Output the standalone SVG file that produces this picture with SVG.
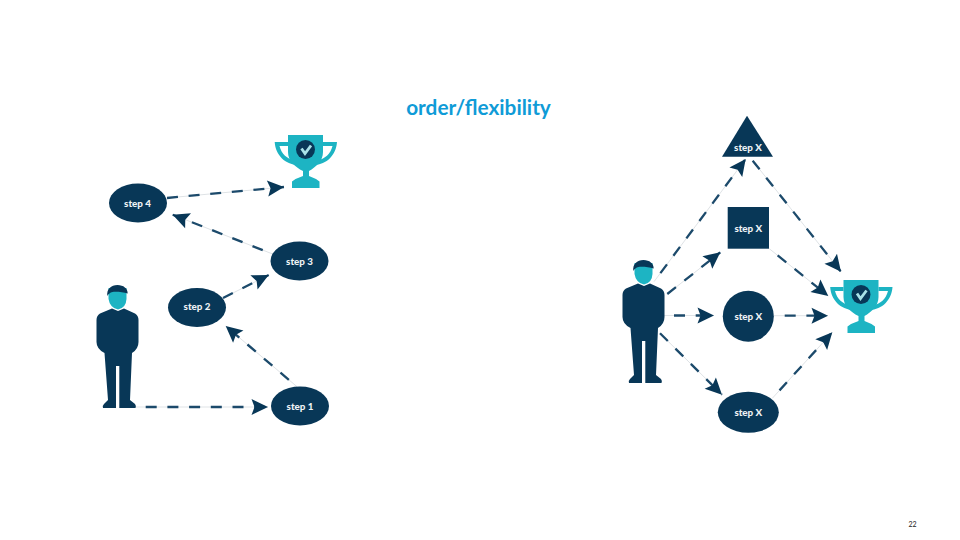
<svg xmlns="http://www.w3.org/2000/svg" width="960" height="540" viewBox="0 0 960 540">
<style>
.shape{fill:#083757}
.lbl{font-family:"Lato","Liberation Sans",sans-serif;font-weight:900;font-size:9.800px;fill:#eef2f5;text-anchor:middle}
.base{stroke:#dfe3e6;stroke-width:1;fill:none}
.dash{stroke:#1c4a6b;stroke-width:2.300;stroke-dasharray:11 10.700;fill:none;marker-end:url(#head)}
.gap{stroke-dashoffset:11}
.teal{fill:#1db4c3}
</style>
<defs>
<marker id="head" markerUnits="userSpaceOnUse" markerWidth="20" markerHeight="20" refX="17" refY="10" orient="auto" viewBox="0 0 20 20">
<path d="M17 10L0.500 2L3.500 10L0.500 18Z" fill="#083757"/>
</marker>
<g id="person">
<path class="teal" d="M108.500 288H126.500V299Q126 308 118 309.500Q110 308 108.500 299Z"/>
<path class="shape" d="M107.300 296C106.500 289 111 285 117.500 285C123.500 285 127.700 288.500 127.700 293.500C123 292 116 291.500 112.500 292C110 292.500 108.500 294 107.300 296Z"/>
<path class="shape" d="M112 308.500L118 311L124 308.500L135 313.500Q138.500 315.500 138.500 320V342Q138.500 349 132 353L130 400L135 404Q136.500 406 135.500 408H119.300V366H116V408H103Q102 406 104 404L108 400L104.500 353Q96.500 349 96.500 342V320Q96.500 315.500 100 313.500Z"/>
</g>
<g id="trophy">
<path class="teal" d="M274.700 142H288V146H279.500C281.500 154 287 159 295 160.500L298 165C285 164.500 275.500 155 274.700 142Z"/>
<path class="teal" d="M337 142H323V146H332.500C330.500 154 325 159 317 160.500L314 165C327 164.500 336 155 337 142Z"/>
<path class="teal" d="M288 135H323V152C323 161 316 167 309 171V176L316 179L319.500 181.500V188H292V181.500L295.500 179L303 176V171C295 167 288 161 288 152Z"/>
<circle class="shape" cx="305.500" cy="149.500" r="9.500"/>
<path d="M301.500 148.500L305 153.500L311 145.500" fill="none" stroke="#a9e2e8" stroke-width="2.800"/>
</g>
</defs>
<rect width="960" height="540" fill="#fff"/>
<text x="478.500" y="115" text-anchor="middle" font-family="Lato,'Liberation Sans',sans-serif" font-weight="700" font-size="20.800px" fill="#0f9bd7">order/flexibility</text>
<text x="912.500" y="527" text-anchor="middle" font-family="Lato,'Liberation Sans',sans-serif" font-size="7px" fill="#222">22</text>
<g id="connectors">
<path class="base" d="M167 198L284 187M272.700 254L172.700 214.700M223 298L268.700 275M297 386.700L225.700 326M135 407H268M654 281.700L745.700 159M752.700 160.700L841 271.700M667.300 294L720.300 252.300M769.300 248.700L828.300 296M663.300 315.500H714M774 315.700H828M660 333.300L722 394.700M772.300 398.300L832.300 332.300"/>
<path class="dash" d="M167 198L284 187"/>
<path class="dash gap" d="M272.700 254L172.700 214.700"/>
<path class="dash" d="M223 298L268.700 275"/>
<path class="dash gap" d="M297 386.700L225.700 326"/>
<path class="dash gap" d="M135 407H268"/>
<path class="dash gap" d="M654 281.700L745.700 159"/>
<path class="dash" d="M752.700 160.700L841 271.700"/>
<path class="dash" d="M667.300 294L720.300 252.300"/>
<path class="dash gap" d="M769.300 248.700L828.300 296"/>
<path class="dash gap" d="M663.300 315.500H714"/>
<path class="dash gap" d="M774 315.700H828"/>
<path class="dash" d="M660 333.300L722 394.700"/>
<path class="dash gap" d="M772.300 398.300L832.300 332.300"/>
</g>
<g id="person-left"><use href="#person"/></g>
<g id="trophy-left"><use href="#trophy"/></g>
<g id="step-4"><ellipse class="shape" cx="138" cy="203" rx="29" ry="19.500"/><text class="lbl" x="137.500" y="206.500">step 4</text></g>
<g id="step-3"><ellipse class="shape" cx="299.500" cy="261" rx="29" ry="19.500"/><text class="lbl" x="299.500" y="264.500">step 3</text></g>
<g id="step-2"><ellipse class="shape" cx="197" cy="307.500" rx="29" ry="19.500"/><text class="lbl" x="197" y="310">step 2</text></g>
<g id="step-1"><ellipse class="shape" cx="300" cy="406" rx="29" ry="19.500"/><text class="lbl" x="300" y="409.500">step 1</text></g>
<g id="person-right"><use href="#person" x="526" y="-25"/></g>
<g id="trophy-right"><use href="#trophy" x="555.500" y="145"/></g>
<g id="step-x-triangle"><path class="shape" d="M747 115.700L773 156.700H722Z"/><text class="lbl" x="748" y="151">step X</text></g>
<g id="step-x-square"><rect class="shape" x="727.700" y="207" width="41.300" height="41.700"/><text class="lbl" x="748.300" y="231.500">step X</text></g>
<g id="step-x-circle"><circle class="shape" cx="748.300" cy="316.300" r="25.500"/><text class="lbl" x="748.300" y="319.500">step X</text></g>
<g id="step-x-ellipse"><ellipse class="shape" cx="748.300" cy="412.300" rx="30.500" ry="20.500"/><text class="lbl" x="748.300" y="415.500">step X</text></g>
</svg>
